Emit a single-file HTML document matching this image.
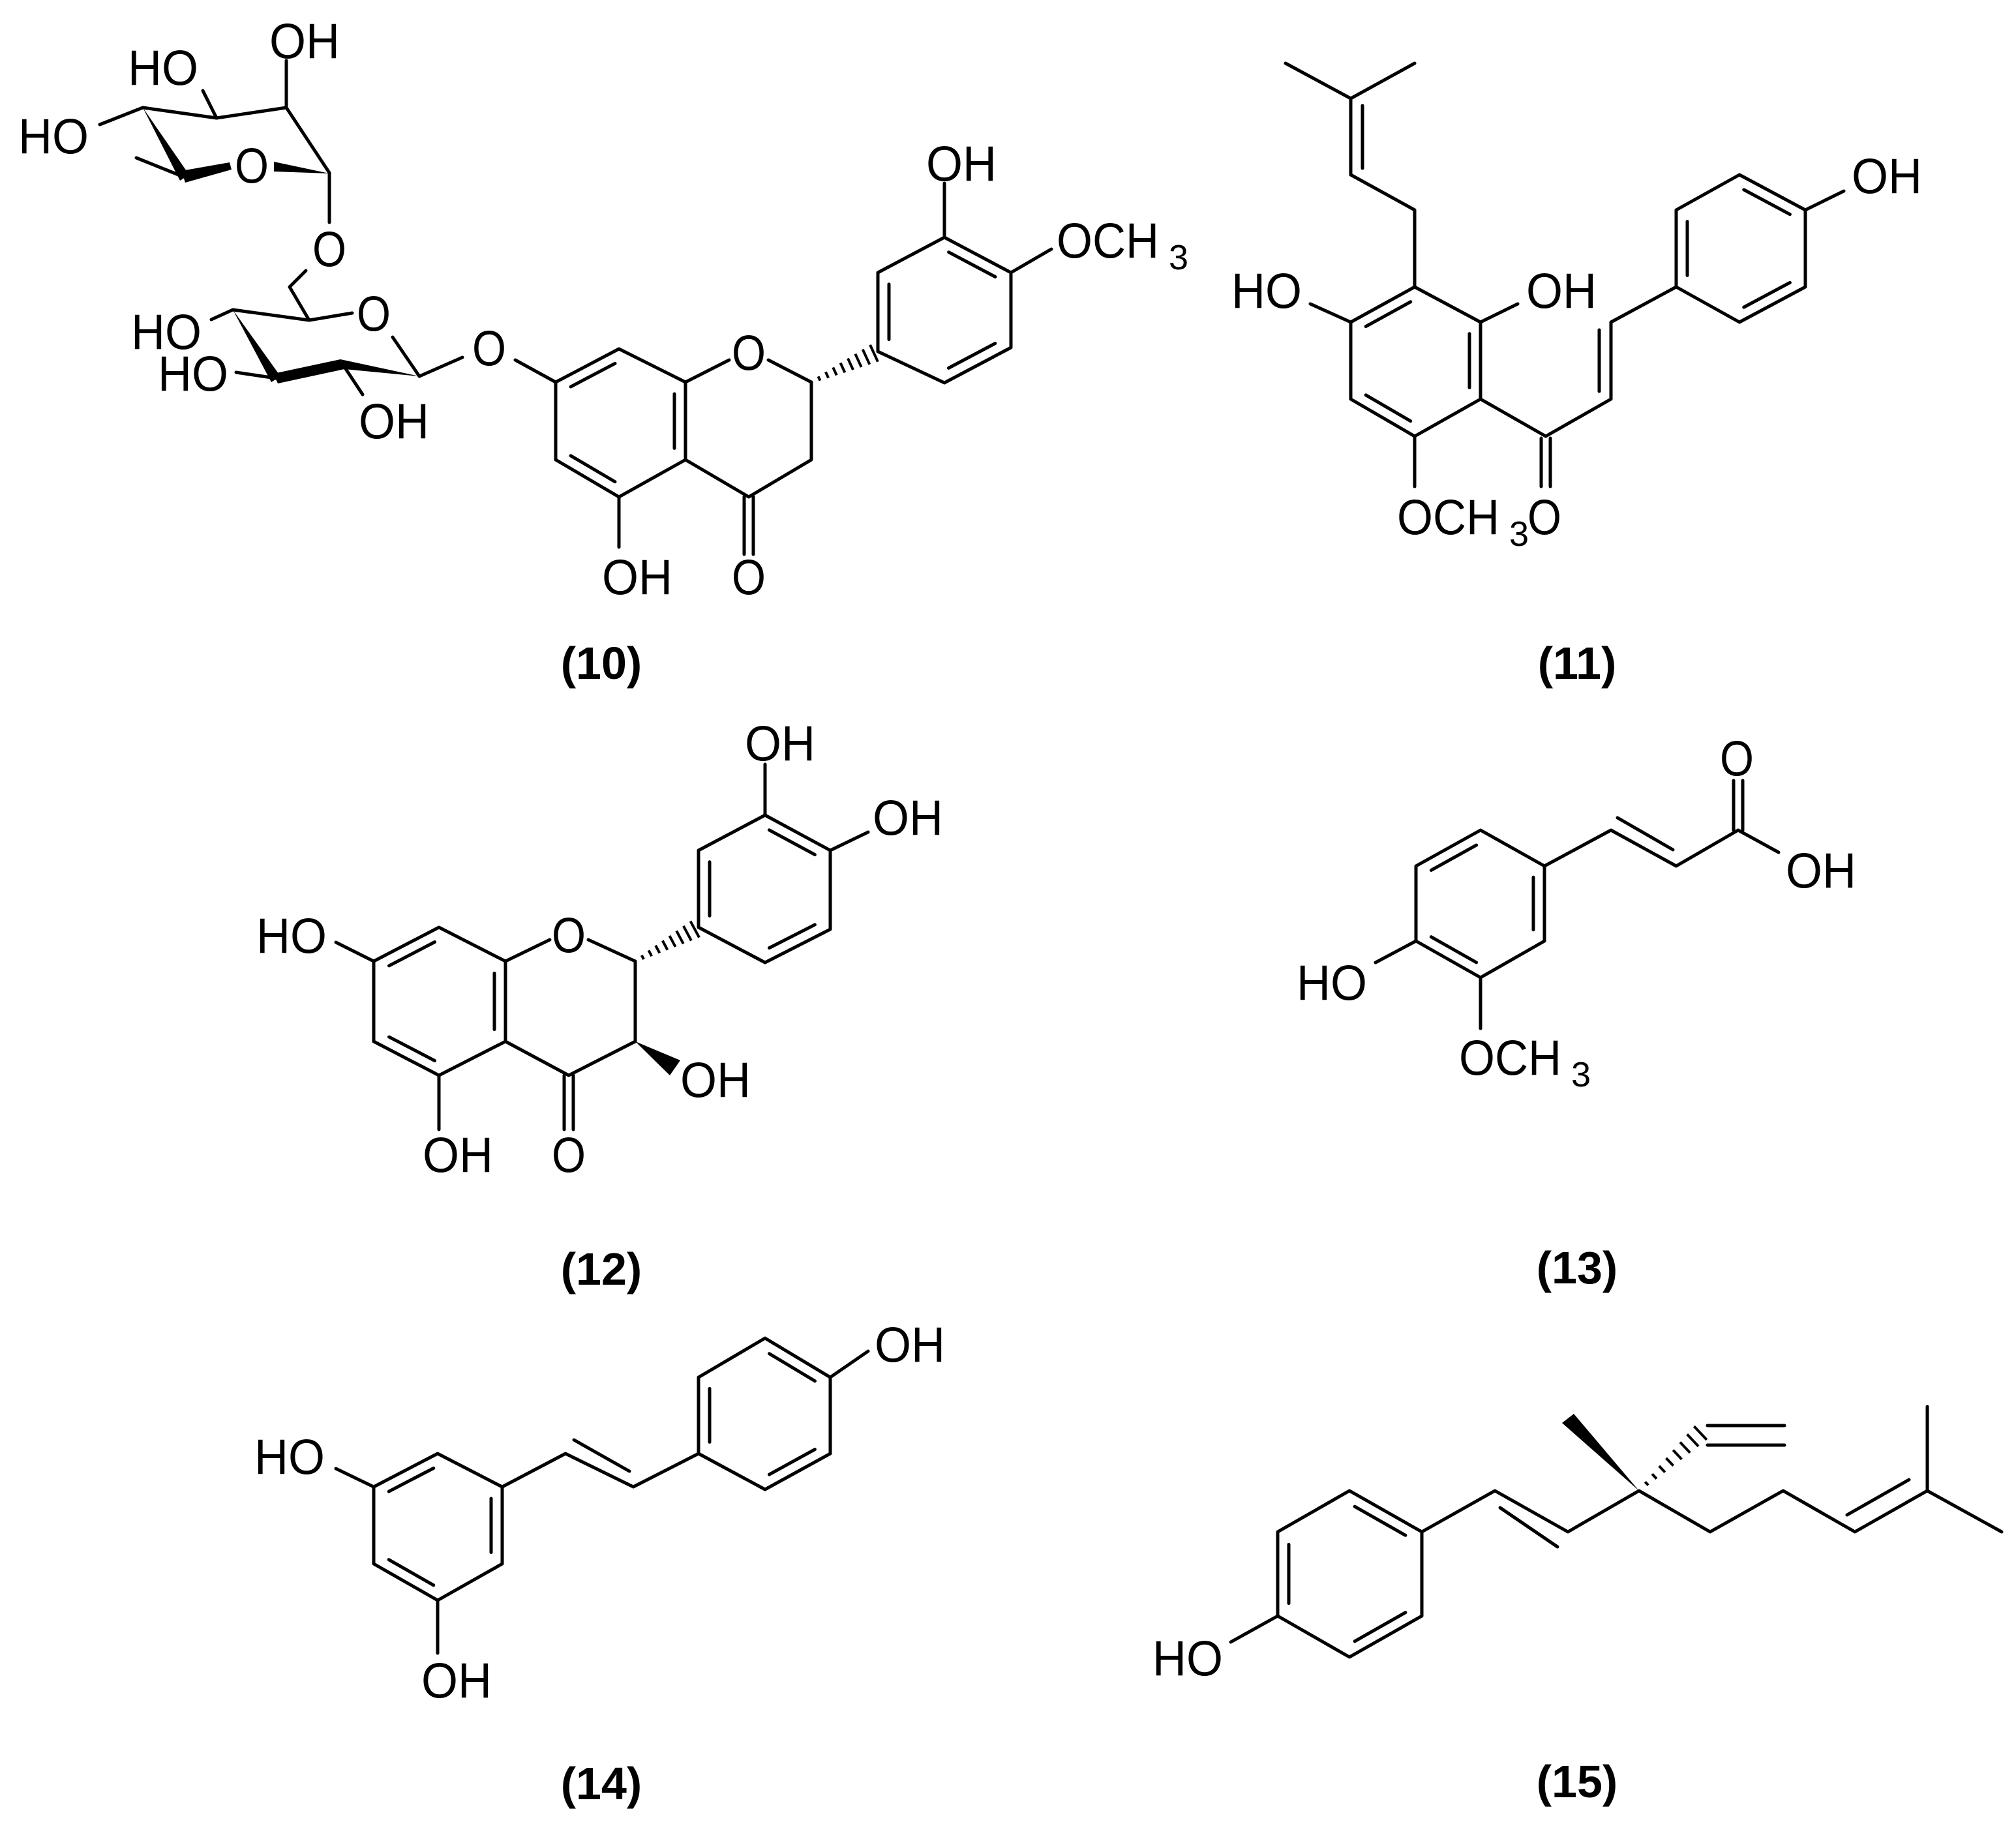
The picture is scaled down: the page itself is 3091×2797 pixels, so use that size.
<!DOCTYPE html>
<html><head><meta charset="utf-8">
<style>
html,body{margin:0;padding:0;background:#fff;}
svg{display:block;}
text{font-family:"Liberation Sans",Arial,sans-serif;font-size:76px;fill:#000;}
.c{font-weight:bold;font-size:70px;}
.s{font-size:54px;}
</style></head>
<body>
<svg id="s" xmlns="http://www.w3.org/2000/svg" width="3091" height="2797" viewBox="0 0 3091 2797">
<rect width="3091" height="2797" fill="#fff"/>
<g id="b" stroke="#000" stroke-width="5" fill="none" stroke-linecap="round" stroke-linejoin="round">
<polyline points="153,191 219,165 332,181 439,165 505,265 505,341"/>
<line x1="332" y1="181" x2="311" y2="139"/>
<line x1="439" y1="165" x2="439" y2="93"/>
<line x1="281" y1="271" x2="209" y2="242"/>
<polyline points="469,415 444,440 474,491"/>
<line x1="357" y1="475" x2="474" y2="491"/>
<line x1="474" y1="491" x2="540" y2="480"/>
<line x1="602" y1="517" x2="643" y2="577"/>
<line x1="357" y1="475" x2="324" y2="490"/>
<line x1="423" y1="580" x2="362" y2="571"/>
<line x1="525" y1="558" x2="556" y2="605"/>
<line x1="643" y1="577" x2="709" y2="548"/>
<line x1="790" y1="552" x2="852" y2="586"/>
<polygon points="852,586 949,535 1051,586 1051,705 949,762 852,705"/>
<line x1="1051" y1="586" x2="1118" y2="552"/>
<line x1="1178" y1="552" x2="1244" y2="586"/>
<polyline points="1244,586 1244,705 1148,762 1051,705"/>
<line x1="1141" y1="762" x2="1141" y2="850"/>
<line x1="1155" y1="762" x2="1155" y2="850"/>
<line x1="949" y1="762" x2="949" y2="839"/>
<polygon points="1346,539 1346,418 1448,364 1550,418 1550,533 1448,587"/>
<line x1="1448" y1="364" x2="1448" y2="281"/>
<line x1="1550" y1="418" x2="1612" y2="382"/>
<polyline points="1971,97 2071,151 2169,97"/>
<line x1="2071" y1="151" x2="2071" y2="268"/>
<line x1="2089" y1="162" x2="2089" y2="258"/>
<polyline points="2071,268 2169,322 2169,440"/>
<polygon points="2169,440 2270,494 2270,612 2169,669 2071,612 2071,494"/>
<line x1="2071" y1="494" x2="2009" y2="466"/>
<line x1="2270" y1="494" x2="2327" y2="466"/>
<line x1="2169" y1="669" x2="2169" y2="746"/>
<polyline points="2270,612 2370,669 2470,612 2470,494 2570,440"/>
<line x1="2363" y1="672" x2="2363" y2="746"/>
<line x1="2377" y1="672" x2="2377" y2="746"/>
<line x1="2452" y1="600" x2="2452" y2="506"/>
<polygon points="2570,440 2570,322 2667,268 2768,322 2768,440 2667,494"/>
<line x1="2768" y1="322" x2="2827" y2="293"/>
<polygon points="673,1422 775,1474 775,1597 673,1649 573,1597 573,1474"/>
<line x1="573" y1="1474" x2="515" y2="1445"/>
<line x1="775" y1="1474" x2="843" y2="1441"/>
<line x1="902" y1="1441" x2="974" y2="1474"/>
<polyline points="974,1474 974,1597 872,1649 775,1597"/>
<line x1="865" y1="1649" x2="865" y2="1732"/>
<line x1="879" y1="1649" x2="879" y2="1732"/>
<line x1="673" y1="1649" x2="673" y2="1732"/>
<polygon points="1071,1422 1071,1304 1173,1250 1273,1304 1273,1425 1173,1476"/>
<line x1="1173" y1="1250" x2="1173" y2="1172"/>
<line x1="1273" y1="1304" x2="1331" y2="1276"/>
<polygon points="2270,1273 2368,1328 2368,1443 2270,1499 2171,1443 2171,1328"/>
<line x1="2171" y1="1443" x2="2109" y2="1476"/>
<line x1="2270" y1="1499" x2="2270" y2="1577"/>
<polyline points="2368,1328 2470,1273 2570,1328 2665,1273"/>
<line x1="2480" y1="1254" x2="2565" y2="1303"/>
<line x1="2658" y1="1273" x2="2658" y2="1197"/>
<line x1="2672" y1="1273" x2="2672" y2="1197"/>
<line x1="2665" y1="1273" x2="2727" y2="1307"/>
<polygon points="671,2229 770,2280 770,2398 671,2454 573,2398 573,2280"/>
<line x1="573" y1="2280" x2="515" y2="2252"/>
<line x1="671" y1="2454" x2="671" y2="2535"/>
<polyline points="770,2280 867,2229 971,2280 1071,2229"/>
<line x1="880" y1="2208" x2="965" y2="2256"/>
<polygon points="1071,2229 1071,2112 1173,2052 1273,2112 1273,2229 1173,2284"/>
<line x1="1273" y1="2112" x2="1331" y2="2072"/>
<polygon points="2069,2286 2180,2349 2180,2478 2069,2541 1959,2478 1959,2349"/>
<line x1="1959" y1="2478" x2="1887" y2="2518"/>
<polyline points="2180,2349 2292,2286 2404,2349 2513,2286 2622,2349 2734,2286 2844,2349 2955,2286 3069,2349"/>
<line x1="2300" y1="2312" x2="2388" y2="2372"/>
<line x1="2832" y1="2323" x2="2927" y2="2269"/>
<line x1="2955" y1="2286" x2="2955" y2="2157"/>
<line x1="2618" y1="2186" x2="2736" y2="2186"/>
<line x1="2618" y1="2216" x2="2736" y2="2216"/>
</g>
<g fill="#000">
<polygon points="219,165 276,277 290,268"/>
<polygon points="278,262 284,280 355,260 352,249"/>
<polygon points="420,248 420,263 505,266"/>
<polygon points="357,475 416,586 430,577"/>
<polygon points="419,573 426,588 528,566 522,551"/>
<polygon points="522,551 528,566 643,577"/>
<polygon points="974,1597 1027,1649 1043,1626"/>
<polygon points="2513,2286 2395,2182 2413,2168"/>
</g>
<g id="h" stroke="#000" stroke-width="4"></g>
<g text-anchor="middle" dominant-baseline="central" lengthAdjust="spacingAndGlyphs">
<text x="250" y="105" textLength="108" lengthAdjust="spacingAndGlyphs">HO</text>
<text x="82" y="210" textLength="108" lengthAdjust="spacingAndGlyphs">HO</text>
<text x="467" y="64" textLength="108" lengthAdjust="spacingAndGlyphs">OH</text>
<text x="386" y="255" textLength="52" lengthAdjust="spacingAndGlyphs">O</text>
<text x="505" y="383" textLength="52" lengthAdjust="spacingAndGlyphs">O</text>
<text x="573" y="482" textLength="52" lengthAdjust="spacingAndGlyphs">O</text>
<text x="255" y="510" textLength="108" lengthAdjust="spacingAndGlyphs">HO</text>
<text x="296" y="574" textLength="108" lengthAdjust="spacingAndGlyphs">HO</text>
<text x="604" y="647" textLength="108" lengthAdjust="spacingAndGlyphs">OH</text>
<text x="750" y="535" textLength="52" lengthAdjust="spacingAndGlyphs">O</text>
<text x="1148" y="542" textLength="52" lengthAdjust="spacingAndGlyphs">O</text>
<text x="1148" y="886" textLength="52" lengthAdjust="spacingAndGlyphs">O</text>
<text x="977" y="886" textLength="108" lengthAdjust="spacingAndGlyphs">OH</text>
<text x="1474" y="252" textLength="108" lengthAdjust="spacingAndGlyphs">OH</text>
<text x="1942" y="447" textLength="108" lengthAdjust="spacingAndGlyphs">HO</text>
<text x="2394" y="447" textLength="108" lengthAdjust="spacingAndGlyphs">OH</text>
<text x="2893" y="271" textLength="108" lengthAdjust="spacingAndGlyphs">OH</text>
<text x="2368" y="794" textLength="52" lengthAdjust="spacingAndGlyphs">O</text>
<text x="447" y="1436" textLength="108" lengthAdjust="spacingAndGlyphs">HO</text>
<text x="872" y="1435" textLength="52" lengthAdjust="spacingAndGlyphs">O</text>
<text x="872" y="1772" textLength="52" lengthAdjust="spacingAndGlyphs">O</text>
<text x="702" y="1772" textLength="108" lengthAdjust="spacingAndGlyphs">OH</text>
<text x="1097" y="1657" textLength="108" lengthAdjust="spacingAndGlyphs">OH</text>
<text x="1196" y="1141" textLength="108" lengthAdjust="spacingAndGlyphs">OH</text>
<text x="1392" y="1255" textLength="108" lengthAdjust="spacingAndGlyphs">OH</text>
<text x="2042" y="1508" textLength="108" lengthAdjust="spacingAndGlyphs">HO</text>
<text x="2663" y="1164" textLength="52" lengthAdjust="spacingAndGlyphs">O</text>
<text x="2792" y="1336" textLength="108" lengthAdjust="spacingAndGlyphs">OH</text>
<text x="444" y="2235" textLength="108" lengthAdjust="spacingAndGlyphs">HO</text>
<text x="700" y="2578" textLength="108" lengthAdjust="spacingAndGlyphs">OH</text>
<text x="1395" y="2063" textLength="108" lengthAdjust="spacingAndGlyphs">OH</text>
<text x="1821" y="2544" textLength="108" lengthAdjust="spacingAndGlyphs">HO</text>
<text class="c" x="922" y="1017">(10)</text>
<text class="c" x="2418" y="1017">(11)</text>
<text class="c" x="922" y="1946">(12)</text>
<text class="c" x="2418" y="1944">(13)</text>
<text class="c" x="922" y="2735">(14)</text>
<text class="c" x="2418" y="2732">(15)</text>
</g>
<g dominant-baseline="central">
<text x="1620" y="370" textLength="157" lengthAdjust="spacingAndGlyphs">OCH</text><text class="s" x="1792" y="395">3</text>
<text x="2142" y="794" textLength="157" lengthAdjust="spacingAndGlyphs">OCH</text><text class="s" x="2314" y="819">3</text>
<text x="2237" y="1623" textLength="157" lengthAdjust="spacingAndGlyphs">OCH</text><text class="s" x="2409" y="1648">3</text>
</g>
</svg>
<script>
(function(){
var NS="http://www.w3.org/2000/svg";
var b=document.getElementById("b"),h=document.getElementById("h");
function ln(g,x1,y1,x2,y2){var l=document.createElementNS(NS,"line");l.setAttribute("x1",x1);l.setAttribute("y1",y1);l.setAttribute("x2",x2);l.setAttribute("y2",y2);g.appendChild(l);}
function inner(x1,y1,x2,y2,cx,cy){
 var mx=(x1+x2)/2,my=(y1+y2)/2,dx=cx-mx,dy=cy-my,d=Math.sqrt(dx*dx+dy*dy),o=17;
 var ox=dx/d*o,oy=dy/d*o,s=0.15;
 ln(b,x1+(x2-x1)*s+ox,y1+(y2-y1)*s+oy,x2-(x2-x1)*s+ox,y2-(y2-y1)*s+oy);}
function ring(p,pairs){var cx=0,cy=0;for(var i=0;i<6;i++){cx+=p[2*i];cy+=p[2*i+1];}cx/=6;cy/=6;
 pairs.forEach(function(i){var j=(i+1)%6;inner(p[2*i],p[2*i+1],p[2*j],p[2*j+1],cx,cy);});}
ring([852,586,949,535,1051,586,1051,705,949,762,852,705],[0,2,4]);
ring([1346,539,1346,418,1448,364,1550,418,1550,533,1448,587],[0,2,4]);
ring([2169,440,2270,494,2270,612,2169,669,2071,612,2071,494],[1,3,5]);
ring([2570,440,2570,322,2667,268,2768,322,2768,440,2667,494],[0,2,4]);
ring([673,1422,775,1474,775,1597,673,1649,573,1597,573,1474],[1,3,5]);
ring([1071,1422,1071,1304,1173,1250,1273,1304,1273,1425,1173,1476],[0,2,4]);
ring([2270,1273,2368,1328,2368,1443,2270,1499,2171,1443,2171,1328],[1,3,5]);
ring([671,2229,770,2280,770,2398,671,2454,573,2398,573,2280],[1,3,5]);
ring([1071,2229,1071,2112,1173,2052,1273,2112,1273,2229,1173,2284],[0,2,4]);
ring([2069,2286,2180,2349,2180,2478,2069,2541,1959,2478,1959,2349],[0,2,4]);
function hash(x1,y1,x2,y2){var dx=x2-x1,dy=y2-y1,L=Math.sqrt(dx*dx+dy*dy),px=-dy/L,py=dx/L,n=8;
 for(var i=1;i<=n;i++){var t=i/(n+0.5),x=x1+dx*t,y=y1+dy*t,w=2+13*t;ln(h,x-px*w,y-py*w,x+px*w,y+py*w);}}
hash(1244,586,1346,539);
hash(974,1474,1071,1422);
hash(2513,2286,2613,2192);
})();
</script>
</body></html>
